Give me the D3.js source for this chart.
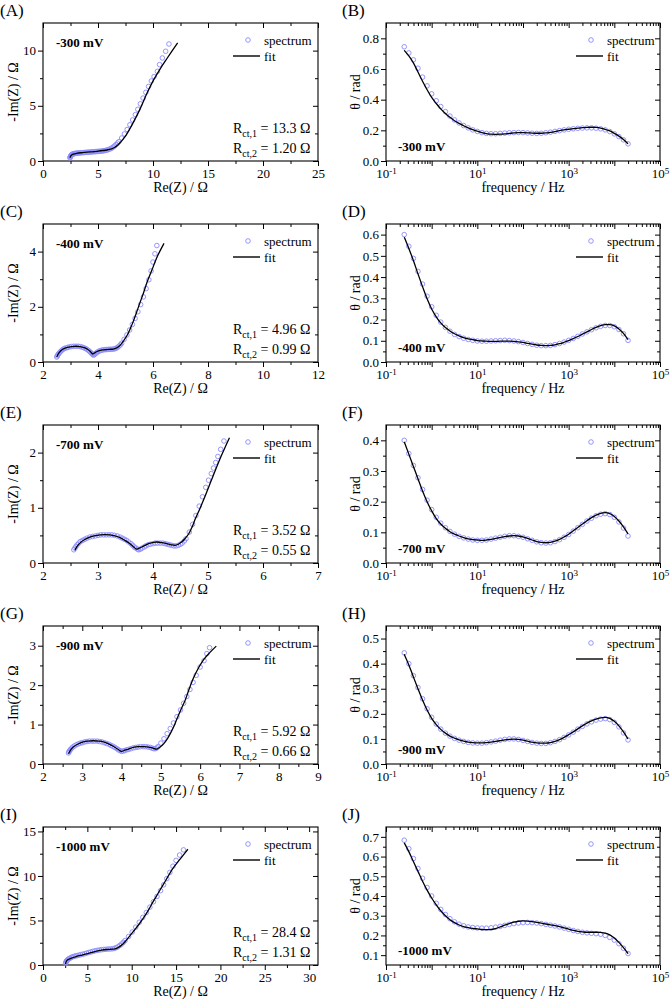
<!DOCTYPE html>
<html><head><meta charset="utf-8">
<script src="https://cdn.jsdelivr.net/npm/d3@7"></script>
<style>body{margin:0;background:#fff}svg{display:block}svg text{font-family:"Liberation Serif","Times New Roman",serif !important}</style>
</head><body><svg id="c" width="670" height="1000"></svg>
<script>
// ---------------- DATA ----------------
const potentials = ["-300 mV","-400 mV","-700 mV","-900 mV","-1000 mV"];
const letters = [["(A)","(B)"],["(C)","(D)"],["(E)","(F)"],["(G)","(H)"],["(I)","(J)"]];
const rct1 = ["13.3","4.96","3.52","5.92","28.4"];
const rct2 = ["1.20","0.99","0.55","0.66","1.31"];

// Nyquist spectra [Re(Z), -Im(Z)]
const nyqSpec300 = [[2.45,0.28],[2.47,0.34],[2.5,0.4],[2.52,0.45],[2.55,0.5],[2.58,0.54],[2.62,0.58],[2.67,0.61],[2.72,0.63],[2.78,0.65],[2.85,0.67],[2.92,0.69],[3.0,0.7],[3.1,0.71],[3.2,0.72],[3.3,0.73],[3.4,0.74],[3.52,0.75],[3.65,0.76],[3.78,0.77],[3.9,0.78],[4.02,0.79],[4.15,0.8],[4.28,0.81],[4.4,0.82],[4.52,0.83],[4.65,0.84],[4.78,0.85],[4.9,0.86],[5.02,0.87],[5.15,0.88],[5.28,0.89],[5.4,0.91],[5.52,0.93],[5.65,0.95],[5.78,0.98],[5.9,1.02],[6.02,1.06],[6.15,1.12],[6.28,1.19],[6.4,1.28],[6.52,1.38],[6.65,1.5],[6.78,1.62],[6.9,1.75],[7.15,2.08],[7.4,2.45],[7.65,2.85],[7.9,3.28],[8.15,3.72],[8.4,4.2],[8.62,4.68],[8.85,5.18],[9.1,5.7],[9.35,6.22],[9.6,6.75],[9.85,7.25],[10.1,7.65],[10.4,8.12],[10.6,8.73],[10.85,9.33],[11.15,9.94],[11.45,10.6]];
const nyqFit300 = [[2.45,0.3],[2.55,0.5],[2.75,0.62],[3.06,0.7],[3.6,0.76],[4.27,0.82],[4.9,0.88],[5.48,0.95],[5.9,1.02],[6.24,1.1],[6.5,1.22],[6.75,1.4],[7.0,1.65],[7.3,2.0],[7.6,2.42],[8.2,3.48],[8.82,4.7],[9.42,6.06],[10.03,7.3],[10.64,8.33],[11.24,9.24],[12.24,10.7]];

const nyqSpec400 = [[2.5,0.18],[2.52,0.22],[2.54,0.26],[2.57,0.3],[2.6,0.34],[2.64,0.38],[2.68,0.42],[2.73,0.46],[2.78,0.49],[2.84,0.51],[2.9,0.53],[2.97,0.55],[3.04,0.56],[3.12,0.57],[3.2,0.57],[3.28,0.57],[3.35,0.56],[3.42,0.54],[3.48,0.52],[3.54,0.49],[3.6,0.46],[3.65,0.42],[3.7,0.38],[3.74,0.34],[3.78,0.3],[3.81,0.27],[3.84,0.25],[3.87,0.27],[3.9,0.3],[3.94,0.33],[3.98,0.36],[4.03,0.39],[4.08,0.41],[4.14,0.43],[4.2,0.44],[4.26,0.45],[4.32,0.45],[4.38,0.46],[4.44,0.46],[4.5,0.46],[4.56,0.47],[4.61,0.48],[4.66,0.5],[4.71,0.53],[4.76,0.57],[4.81,0.62],[4.86,0.68],[4.95,0.82],[5.05,0.98],[5.15,1.16],[5.25,1.36],[5.35,1.58],[5.45,1.82],[5.55,2.08],[5.65,2.36],[5.75,2.66],[5.85,2.98],[5.93,3.3],[6.0,3.62],[6.07,3.92],[6.14,4.22]];
const nyqFit400 = [[2.5,0.18],[2.58,0.33],[2.7,0.45],[2.85,0.52],[3.04,0.56],[3.2,0.57],[3.35,0.56],[3.5,0.52],[3.62,0.46],[3.72,0.38],[3.81,0.29],[3.88,0.33],[3.95,0.37],[4.08,0.42],[4.2,0.44],[4.4,0.46],[4.56,0.47],[4.7,0.52],[4.82,0.62],[4.93,0.77],[5.05,0.95],[5.17,1.2],[5.29,1.49],[5.41,1.82],[5.53,2.16],[5.66,2.52],[5.78,2.88],[5.96,3.33],[6.14,3.79],[6.4,4.3]];

const nyqSpec700 = [[2.56,0.24],[2.58,0.27],[2.6,0.3],[2.62,0.33],[2.65,0.36],[2.68,0.39],[2.72,0.41],[2.76,0.43],[2.8,0.45],[2.85,0.47],[2.9,0.48],[2.95,0.49],[3.0,0.5],[3.05,0.51],[3.1,0.51],[3.15,0.51],[3.2,0.51],[3.25,0.51],[3.3,0.5],[3.35,0.49],[3.4,0.47],[3.44,0.45],[3.48,0.43],[3.52,0.41],[3.56,0.38],[3.6,0.35],[3.63,0.32],[3.66,0.29],[3.69,0.27],[3.72,0.25],[3.74,0.24],[3.77,0.25],[3.8,0.27],[3.84,0.29],[3.87,0.31],[3.91,0.33],[3.95,0.34],[4.0,0.35],[4.04,0.36],[4.08,0.36],[4.13,0.36],[4.18,0.36],[4.22,0.35],[4.26,0.34],[4.3,0.33],[4.34,0.32],[4.38,0.31],[4.42,0.31],[4.46,0.32],[4.5,0.34],[4.53,0.36],[4.57,0.4],[4.6,0.44],[4.66,0.56],[4.72,0.7],[4.78,0.86],[4.84,1.03],[4.9,1.2],[4.96,1.37],[5.01,1.5],[5.06,1.62],[5.1,1.72],[5.14,1.82],[5.18,1.93],[5.23,2.06],[5.29,2.21]];
const nyqFit700 = [[2.58,0.23],[2.62,0.3],[2.67,0.36],[2.75,0.42],[2.83,0.46],[2.93,0.49],[3.04,0.51],[3.13,0.515],[3.22,0.51],[3.31,0.49],[3.4,0.46],[3.49,0.41],[3.58,0.35],[3.65,0.29],[3.7,0.25],[3.75,0.27],[3.8,0.29],[3.92,0.35],[4.0,0.37],[4.07,0.38],[4.16,0.37],[4.25,0.35],[4.33,0.33],[4.4,0.32],[4.46,0.34],[4.52,0.38],[4.58,0.44],[4.65,0.53],[4.71,0.65],[4.77,0.8],[4.85,0.98],[4.95,1.22],[5.05,1.47],[5.15,1.72],[5.25,1.96],[5.39,2.27]];

const nyqSpec900 = [[2.65,0.28],[2.66,0.31],[2.68,0.34],[2.7,0.37],[2.73,0.4],[2.76,0.43],[2.8,0.46],[2.85,0.49],[2.9,0.51],[2.95,0.53],[3.0,0.54],[3.06,0.56],[3.12,0.57],[3.18,0.58],[3.25,0.58],[3.31,0.58],[3.38,0.58],[3.44,0.57],[3.5,0.56],[3.56,0.54],[3.62,0.52],[3.68,0.5],[3.73,0.47],[3.78,0.45],[3.83,0.42],[3.88,0.39],[3.92,0.36],[3.96,0.34],[4.0,0.32],[4.04,0.33],[4.08,0.34],[4.13,0.36],[4.18,0.37],[4.24,0.39],[4.3,0.41],[4.36,0.42],[4.42,0.43],[4.48,0.44],[4.55,0.44],[4.61,0.44],[4.67,0.43],[4.73,0.42],[4.78,0.4],[4.82,0.39],[4.86,0.39],[4.9,0.41],[4.93,0.44],[5.0,0.53],[5.08,0.64],[5.16,0.77],[5.24,0.9],[5.32,1.04],[5.41,1.2],[5.5,1.37],[5.58,1.54],[5.66,1.71],[5.74,1.89],[5.82,2.07],[5.9,2.25],[6.0,2.46],[6.1,2.62],[6.17,2.8],[6.24,2.95]];
const nyqFit900 = [[2.65,0.26],[2.7,0.35],[2.77,0.43],[2.88,0.5],[3.03,0.56],[3.15,0.58],[3.28,0.59],[3.42,0.58],[3.54,0.56],[3.67,0.51],[3.79,0.45],[3.9,0.38],[4.0,0.32],[4.08,0.35],[4.18,0.38],[4.3,0.42],[4.43,0.44],[4.56,0.44],[4.69,0.43],[4.8,0.4],[4.9,0.38],[4.98,0.43],[5.07,0.51],[5.16,0.63],[5.24,0.77],[5.33,0.95],[5.41,1.15],[5.52,1.4],[5.62,1.62],[5.72,1.9],[5.83,2.18],[5.96,2.44],[6.09,2.65],[6.25,2.83],[6.41,2.99]];

const nyqSpec1000 = [[2.55,0.19],[2.58,0.3],[2.62,0.4],[2.68,0.49],[2.75,0.57],[2.85,0.65],[2.95,0.72],[3.07,0.79],[3.2,0.86],[3.35,0.92],[3.5,0.97],[3.67,1.02],[3.85,1.06],[4.05,1.11],[4.25,1.16],[4.47,1.21],[4.7,1.27],[4.92,1.33],[5.15,1.4],[5.37,1.46],[5.6,1.53],[5.85,1.59],[6.1,1.64],[6.35,1.68],[6.6,1.72],[6.85,1.75],[7.1,1.77],[7.35,1.79],[7.6,1.8],[7.85,1.83],[8.05,1.87],[8.25,1.95],[8.45,2.05],[8.65,2.19],[8.85,2.35],[9.05,2.54],[9.25,2.75],[9.65,3.2],[10.05,3.7],[10.45,4.25],[10.85,4.8],[11.25,5.35],[11.65,5.9],[12.05,6.5],[12.45,7.1],[12.85,7.7],[13.25,8.35],[13.6,9.0],[13.95,9.7],[14.3,10.4],[14.65,11.1],[15.0,11.75],[15.4,12.35],[15.84,12.93]];
const nyqFit1000 = [[2.55,0.11],[2.6,0.35],[2.7,0.52],[2.85,0.62],[3.2,0.78],[3.78,0.96],[4.4,1.12],[4.9,1.25],[5.5,1.42],[6.03,1.56],[6.6,1.67],[7.15,1.74],[7.65,1.77],[8.09,1.8],[8.4,1.92],[8.75,2.15],[9.1,2.45],[9.4,2.8],[9.85,3.35],[10.34,3.96],[10.8,4.55],[11.27,5.2],[11.85,6.1],[12.4,7.09],[12.96,8.03],[13.52,8.97],[14.08,9.92],[14.64,10.86],[15.5,11.95],[16.33,13.0]];

// Bode phase: frequency (Hz) and theta (rad)
const freq = [0.251,0.316,0.398,0.501,0.631,0.794,1.00,1.26,1.58,2.00,2.51,3.16,3.98,5.01,6.31,7.94,10.0,12.6,15.8,20.0,25.1,31.6,39.8,50.1,63.1,79.4,100,126,158,200,251,316,398,501,631,794,1000,1259,1585,1995,2512,3162,3981,5012,6310,7943,10000,12589,15849,19953];

const thSpec300 = [0.745,0.705,0.66,0.605,0.547,0.49,0.438,0.393,0.355,0.322,0.293,0.268,0.248,0.231,0.216,0.203,0.193,0.185,0.18,0.178,0.178,0.18,0.182,0.184,0.185,0.186,0.185,0.183,0.181,0.18,0.181,0.184,0.188,0.193,0.198,0.203,0.207,0.21,0.213,0.215,0.216,0.216,0.214,0.21,0.203,0.192,0.177,0.159,0.138,0.112];
const thFit300 = [0.722,0.685,0.64,0.58,0.52,0.465,0.415,0.375,0.34,0.31,0.285,0.263,0.245,0.23,0.216,0.204,0.194,0.185,0.179,0.175,0.174,0.175,0.177,0.18,0.183,0.185,0.185,0.184,0.182,0.181,0.181,0.183,0.187,0.192,0.198,0.203,0.207,0.211,0.214,0.217,0.219,0.22,0.219,0.215,0.207,0.196,0.18,0.162,0.14,0.112];

const thSpec400 = [0.60,0.545,0.488,0.427,0.367,0.31,0.26,0.22,0.188,0.163,0.145,0.13,0.12,0.112,0.106,0.102,0.099,0.098,0.098,0.099,0.1,0.101,0.102,0.101,0.099,0.096,0.092,0.087,0.083,0.079,0.077,0.077,0.078,0.082,0.087,0.094,0.102,0.111,0.121,0.132,0.142,0.152,0.161,0.168,0.172,0.172,0.166,0.153,0.133,0.102];
const thFit400 = [0.588,0.535,0.478,0.415,0.355,0.298,0.25,0.213,0.184,0.162,0.146,0.133,0.123,0.115,0.109,0.105,0.101,0.099,0.098,0.097,0.097,0.098,0.098,0.098,0.097,0.095,0.092,0.088,0.084,0.08,0.078,0.077,0.078,0.081,0.086,0.093,0.101,0.11,0.12,0.131,0.142,0.153,0.163,0.171,0.176,0.176,0.17,0.156,0.135,0.105];

const thSpec700 = [0.40,0.357,0.318,0.278,0.24,0.205,0.174,0.149,0.13,0.115,0.103,0.094,0.087,0.082,0.078,0.075,0.074,0.074,0.075,0.078,0.081,0.084,0.087,0.089,0.089,0.087,0.084,0.079,0.074,0.069,0.066,0.065,0.066,0.07,0.076,0.084,0.093,0.104,0.115,0.126,0.137,0.146,0.154,0.159,0.161,0.158,0.149,0.134,0.114,0.088];
const thFit700 = [0.395,0.355,0.315,0.275,0.235,0.2,0.17,0.145,0.127,0.113,0.102,0.094,0.088,0.083,0.079,0.076,0.075,0.074,0.075,0.077,0.08,0.083,0.086,0.088,0.089,0.088,0.085,0.08,0.075,0.07,0.067,0.066,0.067,0.071,0.077,0.085,0.094,0.105,0.116,0.127,0.138,0.148,0.156,0.162,0.164,0.161,0.152,0.137,0.118,0.095];

const thSpec900 = [0.443,0.4,0.352,0.305,0.26,0.22,0.186,0.159,0.139,0.123,0.111,0.102,0.095,0.09,0.086,0.084,0.083,0.083,0.085,0.088,0.091,0.095,0.098,0.1,0.1,0.098,0.094,0.09,0.086,0.083,0.082,0.082,0.085,0.09,0.097,0.106,0.116,0.127,0.139,0.15,0.16,0.168,0.175,0.179,0.181,0.177,0.166,0.148,0.124,0.096];
const thFit900 = [0.437,0.395,0.347,0.3,0.255,0.215,0.182,0.157,0.138,0.123,0.111,0.103,0.096,0.091,0.087,0.085,0.084,0.084,0.085,0.087,0.09,0.093,0.096,0.098,0.099,0.098,0.095,0.091,0.087,0.084,0.083,0.083,0.085,0.09,0.097,0.106,0.117,0.128,0.14,0.152,0.163,0.172,0.179,0.184,0.186,0.182,0.17,0.152,0.128,0.1];

const thSpec1000 = [0.683,0.64,0.59,0.54,0.49,0.443,0.4,0.363,0.332,0.306,0.285,0.269,0.257,0.249,0.243,0.24,0.238,0.237,0.237,0.239,0.242,0.246,0.251,0.256,0.26,0.263,0.265,0.266,0.265,0.263,0.26,0.256,0.252,0.248,0.243,0.237,0.231,0.225,0.22,0.216,0.213,0.211,0.209,0.206,0.2,0.19,0.176,0.158,0.135,0.108];
const thFit1000 = [0.67,0.625,0.575,0.525,0.475,0.43,0.39,0.355,0.325,0.3,0.28,0.265,0.253,0.245,0.24,0.236,0.233,0.23,0.229,0.23,0.235,0.243,0.252,0.26,0.267,0.272,0.274,0.273,0.27,0.266,0.262,0.258,0.254,0.25,0.245,0.238,0.232,0.226,0.221,0.218,0.216,0.216,0.216,0.215,0.212,0.203,0.187,0.165,0.138,0.108];

// axis domains and tick values
const nyqXDomain = [[0,25],[2,12],[2,7],[2,9],[0,31]];
const nyqYDomain = [[0,12.5],[0,5],[0,2.5],[0,3.5],[0,15.5]];
const nyqXTicks = [[0,5,10,15,20,25],[2,4,6,8,10,12],[2,3,4,5,6,7],[2,3,4,5,6,7,8,9],[0,5,10,15,20,25,30]];
const nyqXMinor = [[2.5,7.5,12.5,17.5,22.5],[3,5,7,9,11],[2.5,3.5,4.5,5.5,6.5],[2.5,3.5,4.5,5.5,6.5,7.5,8.5],[2.5,7.5,12.5,17.5,22.5,27.5]];
const nyqYTicks = [[0,5,10],[0,2,4],[0,1,2],[0,1,2,3],[0,5,10,15]];
const nyqYMinor = [[2.5,7.5],[1,3],[0.5,1.5],[0.5,1.5,2.5],[2.5,7.5,12.5]];

const bodeXDomain = [0.1,1e5];
const bodeXLabeled = [0.1,10,1000,100000];
const bodeYDomain = [[0,0.9],[0,0.65],[0,0.45],[0,0.55],[0.05,0.75]];
const bodeYTicks = [[0,0.2,0.4,0.6,0.8],[0,0.1,0.2,0.3,0.4,0.5,0.6],[0,0.1,0.2,0.3,0.4],[0,0.1,0.2,0.3,0.4,0.5],[0.1,0.2,0.3,0.4,0.5,0.6,0.7]];
const bodeYMinor = [[0.1,0.3,0.5,0.7],[0.05,0.15,0.25,0.35,0.45,0.55],[0.05,0.15,0.25,0.35],[0.05,0.15,0.25,0.35,0.45],[0.15,0.25,0.35,0.45,0.55,0.65]];

const nyqSpec = [nyqSpec300,nyqSpec400,nyqSpec700,nyqSpec900,nyqSpec1000];
const nyqFit = [nyqFit300,nyqFit400,nyqFit700,nyqFit900,nyqFit1000];
const thSpec = [thSpec300,thSpec400,thSpec700,thSpec900,thSpec1000];
const thFit = [thFit300,thFit400,thFit700,thFit900,thFit1000];

// ---------------- DRAWING ----------------
const FONT = "Liberation Serif, Times New Roman, serif";
const SPEC_COLOR = "#8a8aff";
const svg = d3.select("#c").attr("font-family", FONT);
const PH = 138;
const rowTop = i => 23 + i * 201;
const COLS = [{l:43, r:318}, {l:386, r:660}];
const MAJ = 5, MIN = 3;

function styleAxis(sel){
  sel.select(".domain").remove();
  sel.attr("font-family", FONT).attr("font-size", 13);
  sel.selectAll("line").attr("stroke","#000").attr("stroke-width",1);
  sel.selectAll("text").attr("fill","#000");
}

function drawAxes(g, x, y, w, h, o){
  g.append("g").attr("transform",`translate(0,${h})`)
    .call(d3.axisBottom(x).tickValues(o.xMaj).tickSize(MAJ).tickPadding(3).tickFormat(o.xFmt)).call(styleAxis);
  g.append("g").attr("transform",`translate(0,${h})`)
    .call(d3.axisBottom(x).tickValues(o.xMin).tickSize(MIN).tickFormat("")).call(styleAxis);
  g.append("g").call(d3.axisTop(x).tickValues(o.xMaj).tickSize(-MAJ).tickFormat("")).call(styleAxis);
  g.append("g").call(d3.axisTop(x).tickValues(o.xMin).tickSize(-MIN).tickFormat("")).call(styleAxis);
  g.append("g").call(d3.axisLeft(y).tickValues(o.yMaj).tickSize(MAJ).tickPadding(2).tickFormat(o.yFmt)).call(styleAxis);
  g.append("g").call(d3.axisLeft(y).tickValues(o.yMin).tickSize(MIN).tickFormat("")).call(styleAxis);
  g.append("g").attr("transform",`translate(${w},0)`).call(d3.axisRight(y).tickValues(o.yMaj).tickSize(-MAJ).tickFormat("")).call(styleAxis);
  g.append("g").attr("transform",`translate(${w},0)`).call(d3.axisRight(y).tickValues(o.yMin).tickSize(-MIN).tickFormat("")).call(styleAxis);
  g.append("rect").attr("width",w).attr("height",h).attr("fill","none").attr("stroke","#000").attr("stroke-width",1.1);
}

function legend(g, cx){
  g.append("circle").attr("cx",cx).attr("cy",17).attr("r",2.3).attr("fill","none").attr("stroke",SPEC_COLOR).attr("stroke-width",0.9);
  g.append("text").attr("x",cx+16).attr("y",21.5).attr("font-size",13).text("spectrum");
  g.append("line").attr("x1",cx-15).attr("x2",cx+12).attr("y1",33).attr("y2",33).attr("stroke","#000").attr("stroke-width",1.4);
  g.append("text").attr("x",cx+16).attr("y",37.5).attr("font-size",13).text("fit");
}

for (let i = 0; i < 5; i++){
  const top = rowTop(i);
  // ---- Nyquist (left) ----
  {
    const c = COLS[0], w = c.r - c.l, h = PH;
    const g = svg.append("g").attr("transform",`translate(${c.l},${top})`);
    const x = d3.scaleLinear().domain(nyqXDomain[i]).range([0,w]);
    const y = d3.scaleLinear().domain(nyqYDomain[i]).range([h,0]);
    drawAxes(g, x, y, w, h, {xMaj:nyqXTicks[i], xMin:nyqXMinor[i], yMaj:nyqYTicks[i], yMin:nyqYMinor[i], xFmt:d3.format("d"), yFmt:d3.format("d")});
    g.append("g").selectAll("circle").data(nyqSpec[i]).join("circle")
      .attr("cx",d=>x(d[0])).attr("cy",d=>y(d[1])).attr("r",2.3)
      .attr("fill","none").attr("stroke",SPEC_COLOR).attr("stroke-width",0.9);
    g.append("path").datum(nyqFit[i]).attr("fill","none").attr("stroke","#000").attr("stroke-width",1.3)
      .attr("d", d3.line().x(d=>x(d[0])).y(d=>y(d[1])).curve(d3.curveCatmullRom.alpha(0.5)));
    legend(g, 205);
    g.append("text").attr("x",13).attr("y",24).attr("font-size",13).attr("font-weight","bold").text(potentials[i]);
    const t1 = g.append("text").attr("x",190).attr("y",110).attr("font-size",14);
    t1.append("tspan").text("R");
    t1.append("tspan").attr("font-size",10).attr("dy",4).text("ct,1");
    t1.append("tspan").attr("dy",-4).text(" = " + rct1[i] + " Ω");
    const t2 = g.append("text").attr("x",190).attr("y",130).attr("font-size",14);
    t2.append("tspan").text("R");
    t2.append("tspan").attr("font-size",10).attr("dy",4).text("ct,2");
    t2.append("tspan").attr("dy",-4).text(" = " + rct2[i] + " Ω");
    g.append("text").attr("x",w/2).attr("y",h+31).attr("text-anchor","middle").attr("font-size",14).text("Re(Z) / Ω");
    g.append("text").attr("transform",`translate(-25,${h/2}) rotate(-90)`).attr("text-anchor","middle").attr("font-size",14).text("-Im(Z) / Ω");
    svg.append("text").attr("x",0).attr("y",top-7).attr("font-size",17).text(letters[i][0]);
  }
  // ---- Bode phase (right) ----
  {
    const c = COLS[1], w = c.r - c.l, h = PH;
    const g = svg.append("g").attr("transform",`translate(${c.l},${top})`);
    const x = d3.scaleLog().domain(bodeXDomain).range([0,w]);
    const y = d3.scaleLinear().domain(bodeYDomain[i]).range([h,0]);
    const decades = d3.range(-1,6).map(e=>Math.pow(10,e));
    const minors = [];
    decades.slice(0,-1).forEach(d=>{ for(let k=2;k<10;k++) minors.push(d*k); });
    drawAxes(g, x, y, w, h, {xMaj:decades, xMin:minors, yMaj:bodeYTicks[i], yMin:bodeYMinor[i],
      xFmt:d=> bodeXLabeled.some(v=>Math.abs(v-d)/v<1e-6) ? "L" : "", yFmt:d3.format(".1f")});
    g.selectAll("text").filter(function(){ return d3.select(this).text()==="L"; }).each(function(d){
      const t = d3.select(this); const e = Math.round(Math.log10(d));
      t.text("10");
      t.append("tspan").attr("dy","-0.5em").attr("font-size",9).text(String(e));
    });
    g.append("g").selectAll("circle").data(freq).join("circle")
      .attr("cx",(d)=>x(d)).attr("cy",(d,j)=>y(thSpec[i][j])).attr("r",2.3)
      .attr("fill","none").attr("stroke",SPEC_COLOR).attr("stroke-width",0.9);
    g.append("path").datum(freq.map((f,j)=>[f,thFit[i][j]])).attr("fill","none").attr("stroke","#000").attr("stroke-width",1.3)
      .attr("d", d3.line().x(d=>x(d[0])).y(d=>y(d[1])).curve(d3.curveMonotoneX));
    legend(g, 205);
    g.append("text").attr("x",12).attr("y",h-10).attr("font-size",13).attr("font-weight","bold").text(potentials[i]);
    g.append("text").attr("x",w/2).attr("y",h+31).attr("text-anchor","middle").attr("font-size",14).text("frequency / Hz");
    g.append("text").attr("transform",`translate(-26,${h/2}) rotate(-90)`).attr("text-anchor","middle").attr("font-size",14).text("θ / rad");
    svg.append("text").attr("x",342).attr("y",top-7).attr("font-size",17).text(letters[i][1]);
  }
}
</script></body></html>
